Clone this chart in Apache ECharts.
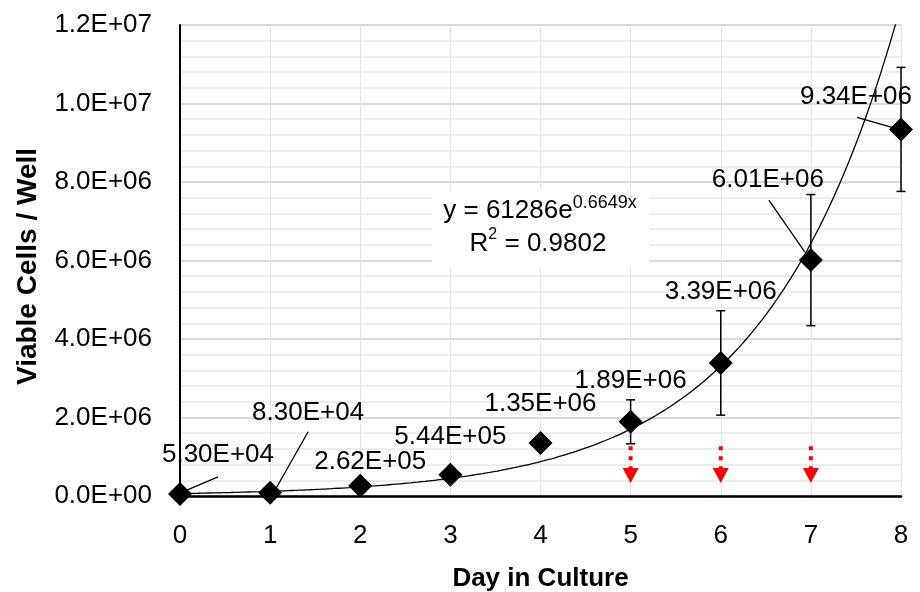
<!DOCTYPE html>
<html>
<head>
<meta charset="utf-8">
<script src="https://cdn.jsdelivr.net/npm/echarts@6/dist/echarts.min.js"></script>
<style>
  html, body { margin: 0; padding: 0; background: #fff; }
  #chart { width: 920px; height: 592px; }
</style>
</head>
<body>
<div id="chart"></div>
<script>
// 数据
const DAYS = [0, 1, 2, 3, 4, 5, 6, 7, 8];
const CELLS = [5.30e4, 8.30e4, 2.62e5, 5.44e5, 1.35e6, 1.89e6, 3.39e6, 6.01e6, 9.34e6];
// 误差线 (±)
const ERR_DAYS = [5, 6, 7, 8];
const ERR_SD = [0.56e6, 1.33e6, 1.67e6, 1.58e6];
// 红色虚线箭头
const ARROW_DAYS = [5, 6, 7];
const ARROW_FROM = [1.27e6, 1.27e6, 1.27e6];
const ARROW_TO = [0.33e6, 0.33e6, 0.33e6];
// 趋势线 (图中公式)
const TREND_A = 61286;
const TREND_B = 0.6649;
const TREND_R2 = '0.9802';

// 数据标签偏移 (像素)
const LABEL_DX = [38, 38, 10, 0, 0, 0, 0, -43, -45];
const LABEL_DY = [-39, -80, -24, -38, -39, -41, -71, -80, -33];
// 引导线: [数据序号, 起点dx, 起点dy, 终点dx, 终点dy]
const LEADERS = [[0, 5, -3, 38, -17], [1, 4, -1, 38, -61], [7, -6, -8, -42, -60], [8, -9, -2, -44, -12]];

const FONT = '"Liberation Sans", Arial, sans-serif';

function sci(v, d) {
    const s = Number(v).toExponential(d);
    const parts = s.split('e');
    const n = parseInt(parts[1], 10);
    return parts[0] + 'E' + (n < 0 ? '-' : '+') + String(Math.abs(n)).padStart(2, '0');
}

const trendData = [];
for (let i = 0; i <= 400; i++) {
    const x = i * 0.02;
    trendData.push([x, TREND_A * Math.exp(TREND_B * x)]);
}

const chart = echarts.init(document.getElementById('chart'));
chart.setOption({
    animation: false,
    grid: { left: 180, right: 19, top: 25, bottom: 96, outerBoundsMode: 'none', containLabel: false },
    xAxis: {
        type: 'value',
        min: 0, max: 8, interval: 1,
        name: 'Day in Culture',
        nameLocation: 'middle',
        nameGap: 70,
        nameTextStyle: { fontFamily: FONT, fontSize: 26, fontWeight: 'bold', color: '#000' },
        axisLine: { show: true, onZero: false, lineStyle: { color: '#000', width: 2.5 } },
        axisTick: { show: false },
        axisLabel: { fontFamily: FONT, fontSize: 26, color: '#000', margin: 27 },
        splitLine: { show: true, lineStyle: { color: '#e3e3e3', width: 1 } }
    },
    yAxis: {
        type: 'value',
        min: 0, max: 1.2e7, interval: 2e6,
        name: 'Viable Cells / Well',
        nameLocation: 'middle',
        nameGap: 138,
        nameTextStyle: { fontFamily: FONT, fontSize: 28, fontWeight: 'bold', color: '#000', padding: [0, 12, 0, 0] },
        axisLine: { show: true, lineStyle: { color: '#000', width: 2 } },
        axisTick: { show: false },
        axisLabel: { fontFamily: FONT, fontSize: 26, color: '#000', margin: 28,
            formatter: v => sci(v, 1) },
        splitLine: { show: true, lineStyle: { color: '#d9d9d9', width: 2 } },
        minorTick: { show: false, splitNumber: 5 },
        minorSplitLine: { show: true, lineStyle: { color: '#e8e8e8', width: 1.5 } }
    },
    graphic: [{
        type: 'rect',
        shape: { x: 432, y: 190, width: 217, height: 78 },
        style: { fill: '#fff' },
        z: 50
    }, {
        type: 'text',
        x: 540, y: 211,
        z: 51,
        style: {
            text: '{n|y = 61286e}{s|0.6649x}',
            align: 'center', verticalAlign: 'middle',
            rich: {
                n: { fontFamily: FONT, fontSize: 26, color: '#000', lineHeight: 34 },
                s: { fontFamily: FONT, fontSize: 18, color: '#000', verticalAlign: 'top' }
            }
        }
    }, {
        type: 'text',
        x: 538, y: 244,
        z: 51,
        style: {
            text: '{n|R}{s|2}{n| = ' + TREND_R2 + '}',
            align: 'center', verticalAlign: 'middle',
            rich: {
                n: { fontFamily: FONT, fontSize: 26, color: '#000', lineHeight: 34 },
                s: { fontFamily: FONT, fontSize: 16, color: '#000', verticalAlign: 'top' }
            }
        }
    }],
    series: [{
        name: 'trend',
        type: 'line',
        data: trendData,
        showSymbol: false,
        silent: true,
        clip: true,
        lineStyle: { color: '#000', width: 1.3 },
        z: 3
    }, {
        name: 'errors',
        type: 'custom',
        data: ERR_DAYS.map((d, i) => [d, CELLS[DAYS.indexOf(d)] - ERR_SD[i], CELLS[DAYS.indexOf(d)] + ERR_SD[i]]),
        renderItem: (params, api) => {
            const top = api.coord([api.value(0), api.value(2)]);
            const bot = api.coord([api.value(0), api.value(1)]);
            const w = 4.5;
            const st = { stroke: '#000', lineWidth: 1.5 };
            return {
                type: 'group',
                children: [
                    { type: 'line', shape: { x1: top[0], y1: top[1], x2: bot[0], y2: bot[1] }, style: st },
                    { type: 'line', shape: { x1: top[0] - w, y1: top[1], x2: top[0] + w, y2: top[1] }, style: st },
                    { type: 'line', shape: { x1: bot[0] - w, y1: bot[1], x2: bot[0] + w, y2: bot[1] }, style: st }
                ]
            };
        },
        z: 4
    }, {
        name: 'leaders',
        type: 'custom',
        data: LEADERS.map(l => [DAYS[l[0]], CELLS[l[0]], l[1], l[2], l[3], l[4]]),
        renderItem: (params, api) => {
            const p = api.coord([api.value(0), api.value(1)]);
            return {
                type: 'line',
                shape: { x1: p[0] + api.value(2), y1: p[1] + api.value(3), x2: p[0] + api.value(4), y2: p[1] + api.value(5) },
                style: { stroke: '#000', lineWidth: 1.3 }
            };
        },
        clip: false,
        z: 4
    }, {
        name: 'arrows',
        type: 'custom',
        data: ARROW_DAYS.map((d, i) => [d, ARROW_FROM[i], ARROW_TO[i]]),
        renderItem: (params, api) => {
            const a = api.coord([api.value(0), api.value(1)]);
            const b = api.coord([api.value(0), api.value(2)]);
            const head = 15, hw = 8;
            return {
                type: 'group',
                children: [
                    { type: 'line', shape: { x1: a[0], y1: a[1], x2: b[0], y2: b[1] - head },
                      style: { stroke: '#ff0000', lineWidth: 4, lineDash: [4, 6] } },
                    { type: 'polygon', shape: { points: [[b[0] - hw, b[1] - head], [b[0] + hw, b[1] - head], [b[0], b[1]]] },
                      style: { fill: '#ff0000' } }
                ]
            };
        },
        z: 4
    }, {
        name: 'cells',
        type: 'scatter',
        symbol: 'diamond',
        symbolSize: 24,
        itemStyle: { color: '#000', opacity: 1 },
        data: DAYS.map((d, i) => [d, CELLS[i]]),
        label: {
            show: true,
            position: 'inside',
            fontFamily: FONT,
            fontSize: 26,
            color: '#000',
            textBorderWidth: 0,
            formatter: p => sci(p.value[1], 2)
        },
        labelLayout: p => ({ dx: LABEL_DX[p.dataIndex], dy: LABEL_DY[p.dataIndex] }),
        z: 5
    }]
});
</script>
</body>
</html>
